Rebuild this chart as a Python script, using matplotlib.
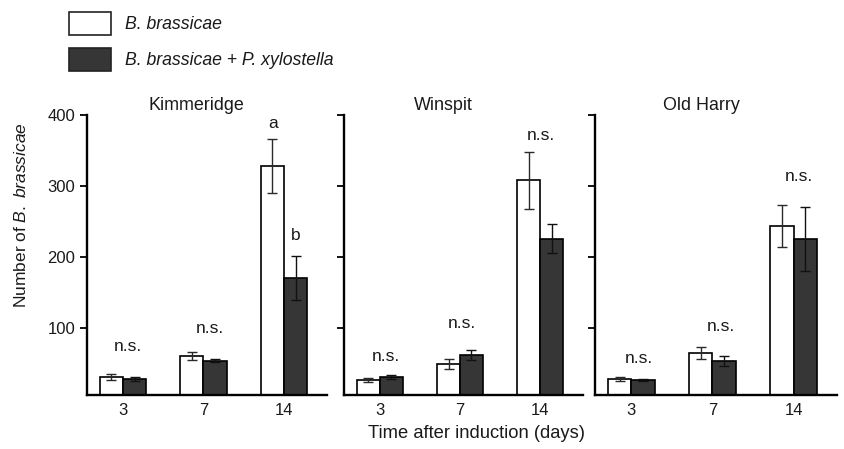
import matplotlib
matplotlib.use("Agg")
import matplotlib.pyplot as plt
from matplotlib.patches import Rectangle
import numpy as np

plt.rcParams['font.family'] = ['Liberation Sans', 'DejaVu Sans']
plt.rcParams['mathtext.fontset'] = 'custom'
plt.rcParams['mathtext.rm'] = 'Liberation Sans'
plt.rcParams['mathtext.it'] = 'Liberation Sans:italic'

days = ['3', '7', '14']
sites = ['Kimmeridge', 'Winspit', 'Old Harry']

# B. brassicae alone
kim_bb = [31, 61, 328]
kim_bb_err = [4, 6, 38]
win_bb = [27, 50, 308]
win_bb_err = [3, 7, 40]
old_bb = [28, 65, 244]
old_bb_err = [3, 9, 30]

# B. brassicae + P. xylostella
kim_px = [29, 54, 171]
kim_px_err = [3, 2, 31]
win_px = [31, 62, 226]
win_px_err = [3, 7, 20]
old_px = [27, 54, 226]
old_px_err = [2, 7, 45]

# annotations (label, x, y)
kim_labels = [('n.s.', 0.06, 74), ('n.s.', 1.08, 100), ('a', 1.86, 388), ('b', 2.15, 231)]
win_labels = [('n.s.', 0.08, 60), ('n.s.', 1.03, 107), ('n.s.', 2.01, 371)]
old_labels = [('n.s.', 0.09, 58), ('n.s.', 1.10, 102), ('n.s.', 2.06, 313)]

title_x = [0.457, 0.414, 0.441]

bb_all = [kim_bb, win_bb, old_bb]
bb_err_all = [kim_bb_err, win_bb_err, old_bb_err]
px_all = [kim_px, win_px, old_px]
px_err_all = [kim_px_err, win_px_err, old_px_err]
labels_all = [kim_labels, win_labels, old_labels]

W, H = 844, 449
fig = plt.figure(figsize=(W / 100, H / 100), dpi=100)

lefts = [87, 344, 595]
widths = [240, 239, 242]
top_px, bot_px = 115, 395
txt_col = '#1a1a1a'
dark = '#363636'
fs = 12.5
tfs = 12

x = np.arange(len(days))
bw = 0.286

for i, site in enumerate(sites):
    ax = fig.add_axes([lefts[i] / W, 1 - bot_px / H, widths[i] / W, (bot_px - top_px) / H])
    ax.bar(x - bw / 2, bb_all[i], bw, color='white', edgecolor='black', linewidth=1.2, zorder=2)
    ax.bar(x + bw / 2, px_all[i], bw, color=dark, edgecolor='black', linewidth=1.2, zorder=2)
    ax.errorbar(x - bw / 2, bb_all[i], yerr=bb_err_all[i], fmt='none', ecolor='#2a2a2a',
                elinewidth=1.0, capsize=3.5, capthick=1.0, zorder=3)
    ax.errorbar(x + bw / 2, px_all[i], yerr=px_err_all[i], fmt='none', ecolor='#111111',
                elinewidth=1.0, capsize=3.5, capthick=1.0, zorder=3)
    ax.set_xlim(-0.447, 2.534)
    ax.set_ylim(6, 400)
    ax.set_yticks([100, 200, 300, 400])
    ax.set_xticks(x)
    ax.set_xticklabels(days, fontsize=tfs, color=txt_col)
    ax.tick_params(axis='x', length=0, pad=5.5)
    ax.tick_params(axis='y', direction='out', length=5, width=1.3, labelsize=tfs,
                   labelcolor=txt_col, pad=3.5)
    if i > 0:
        ax.set_yticklabels([])
    for s in ['top', 'right']:
        ax.spines[s].set_visible(False)
    for s in ['left', 'bottom']:
        ax.spines[s].set_linewidth(1.7)
    for lab, lx, ly in labels_all[i]:
        ax.text(lx, ly, lab, ha='center', va='center', fontsize=fs, color=txt_col)
    ax.text(title_x[i], 1.0 + 10 / 280, site, transform=ax.transAxes, ha='center',
            va='center', fontsize=12.9, color=txt_col)
    if i == 0:
        ax.set_ylabel('Number of $\\it{B.\\ brassicae}$', fontsize=fs, color=txt_col)
        ax.yaxis.set_label_coords(-0.242, 0.643)

fig.text(477 / W, 1 - 434 / H, 'Time after induction (days)', ha='center', va='center',
         fontsize=13.2, color=txt_col)

# legend
leg_items = [('white', 'B. brassicae', 12.3), (dark, 'B. brassicae + P. xylostella', 48.3)]
for col, txt, ytop in leg_items:
    r = Rectangle((69 / W, 1 - (ytop + 23) / H), 42 / W, 23 / H, transform=fig.transFigure,
                  facecolor=col, edgecolor='#222222', linewidth=1.2)
    fig.patches.append(r)
    fig.text(125 / W, 1 - (ytop + 12) / H, txt, ha='left', va='center', fontsize=12.7,
             style='italic', color=txt_col)

fig.savefig('out.png', dpi=100)
